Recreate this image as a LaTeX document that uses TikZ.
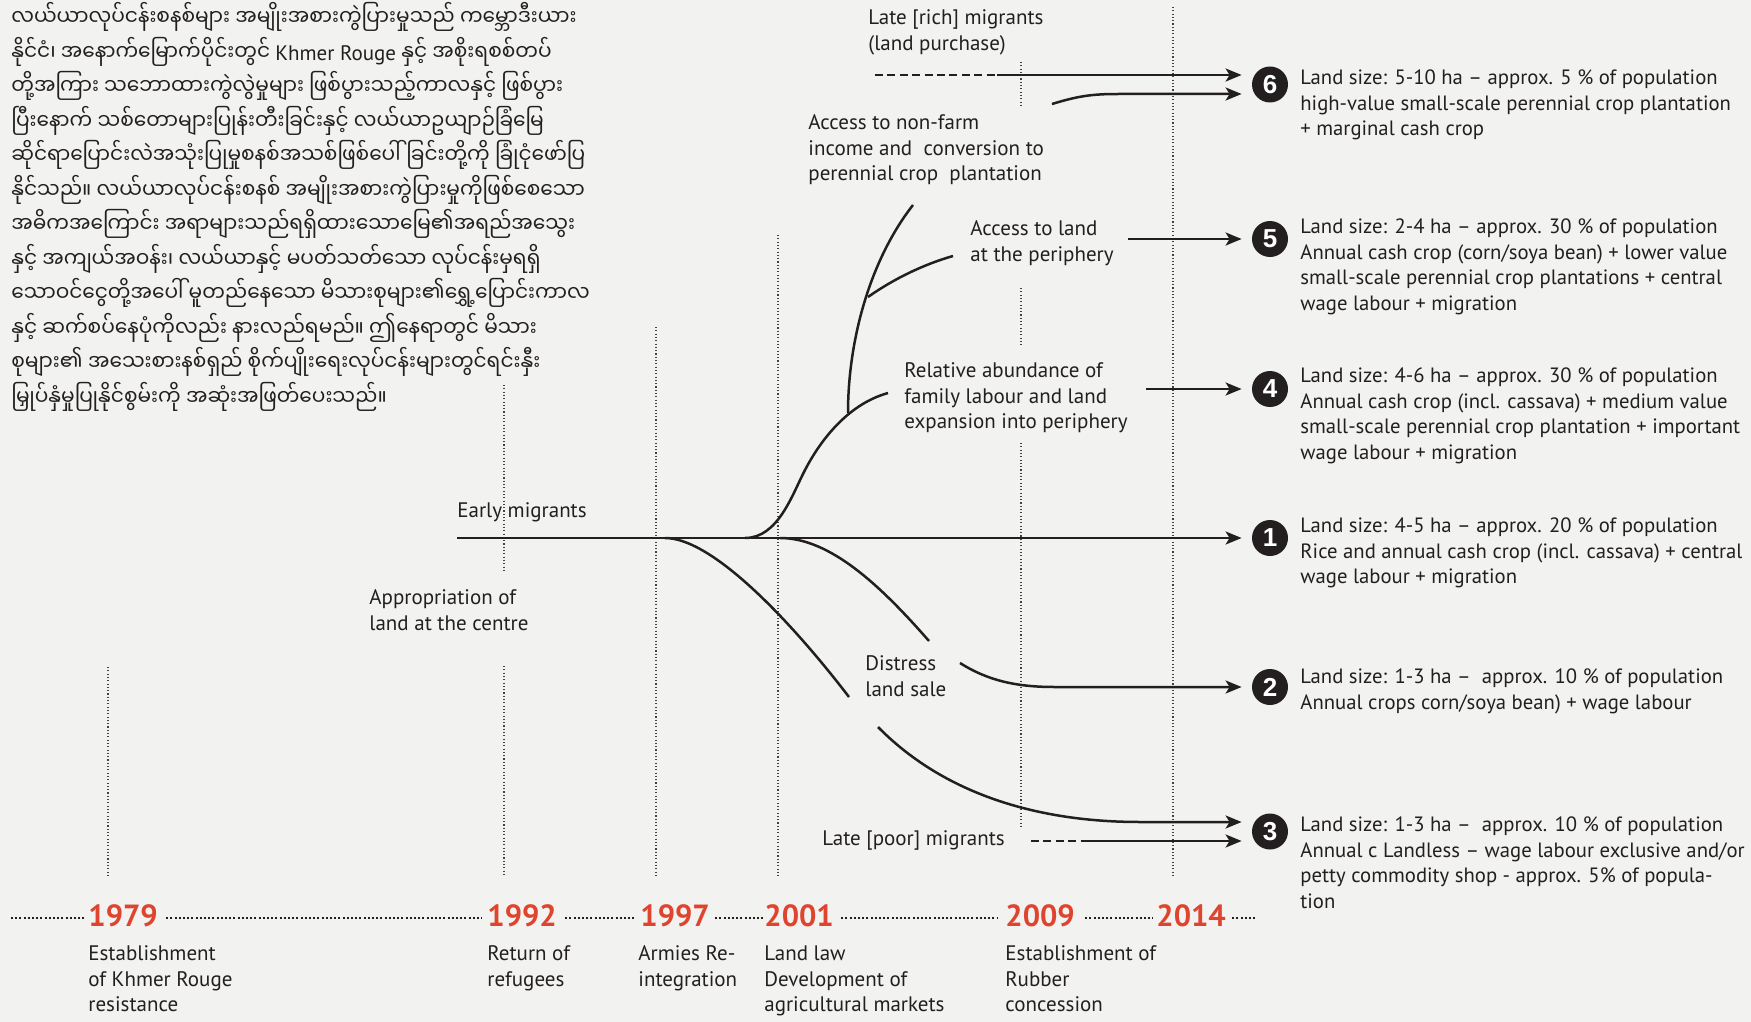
\documentclass[tikz,border=0pt]{standalone}
\usepackage{fontspec}
\setmainfont{PT Sans}
\newfontfamily\myafont[Script=Myanmar, FakeStretch=0.915]{Noto Sans Myanmar UI}
\newfontfamily\numfont{Liberation Sans}
\usetikzlibrary{arrows.meta,calc}
\definecolor{bg}{RGB}{242,242,240}
\definecolor{ink}{RGB}{35,31,32}
\definecolor{yr}{RGB}{222,68,46}
\begin{document}
\begin{tikzpicture}[x=0.5pt,y=-0.5pt,
  txt/.style={anchor=north west, inner sep=0pt, yshift=-1.7pt, align=left, text=ink, font=\fontsize{10.5}{12.75}\selectfont},
  outtxt/.style={txt, font=\fontsize{10.35}{12.75}\selectfont},
  yeartxt/.style={anchor=west, inner sep=0pt, text=yr, font=\bfseries\fontsize{15.3}{15}\selectfont},
  num/.style={circle, fill=ink, text=white, minimum size=18pt, inner sep=0pt, font=\numfont\bfseries\fontsize{13}{13}\selectfont},
  flow/.style={draw=ink, line width=1.25pt},
  arr/.style={flow, -{Stealth[length=8pt,width=6.5pt,inset=2pt]}},
  arrn/.style={arr, shorten >=5pt},
  dsh/.style={flow, dash pattern=on 4pt off 2.2pt},
  grid/.style={draw=ink!85, line width=0.55pt, dash pattern=on 0.55pt off 1.1pt},
  tl/.style={draw=ink, line width=1pt, dash pattern=on 1pt off 1.1pt}
]
\useasboundingbox (0,0) rectangle (1751,1022);
\fill[bg] (0,0) rectangle (1751,1022);

% vertical dotted year lines
\draw[grid] (108,667) -- (108,877);
\draw[grid] (504,385) -- (504,572);
\draw[grid] (504,666) -- (504,877);
\draw[grid] (656,327) -- (656,877);
\draw[grid] (778,235) -- (778,877);
\draw[grid] (1021,62) -- (1021,105);
\draw[grid] (1021,288) -- (1021,345);
\draw[grid] (1021,443) -- (1021,828);
\draw[grid] (1173,7) -- (1173,877);

% Myanmar paragraph
\node[anchor=north west, inner sep=0pt, align=left, text=ink,
      font=\myafont\fontsize{11}{17.25}\selectfont] (para) at (11,2) {%
လယ်ယာလုပ်ငန်းစနစ်များ အမျိုးအစားကွဲပြားမှုသည် ကမ္ဘောဒီးယား\\
နိုင်ငံ၊ အနောက်မြောက်ပိုင်းတွင် {\fontspec{PT Sans}\fontsize{10.5}{12}\selectfont Khmer Rouge} နှင့် အစိုးရစစ်တပ်\\
တို့အကြား သဘောထားကွဲလွဲမှုများ ဖြစ်ပွားသည့်ကာလနှင့် ဖြစ်ပွား\\
ပြီးနောက် သစ်တောများပြုန်းတီးခြင်းနှင့် လယ်ယာဥယျာဉ်ခြံမြေ\\
ဆိုင်ရာပြောင်းလဲအသုံးပြုမှုစနစ်အသစ်ဖြစ်ပေါ်ခြင်းတို့ကို ခြုံငုံဖော်ပြ\\
နိုင်သည်။ လယ်ယာလုပ်ငန်းစနစ် အမျိုးအစားကွဲပြားမှုကိုဖြစ်စေသော\\
အဓိကအကြောင်း အရာများသည်ရရှိထားသောမြေ၏အရည်အသွေး\\
နှင့် အကျယ်အဝန်း၊ လယ်ယာနှင့် မပတ်သတ်သော လုပ်ငန်းမှရရှိ\\
သောဝင်ငွေတို့အပေါ် မူတည်နေသော မိသားစုများ၏ရွှေ့ပြောင်းကာလ\\
နှင့် ဆက်စပ်နေပုံကိုလည်း နားလည်ရမည်။ ဤနေရာတွင် မိသား\\
စုများ၏ အသေးစားနစ်ရှည် စိုက်ပျိုးရေးလုပ်ငန်းများတွင်ရင်းနှီး\\
မြှုပ်နှံမှုပြုနိုင်စွမ်းကို အဆုံးအဖြတ်ပေးသည်။};

% circled outcome numbers
\node[num] (n6) at (1270,84.5) {6};
\node[num] (n5) at (1270,239) {5};
\node[num] (n4) at (1270,389) {4};
\node[num] (n1) at (1270,538) {1};
\node[num] (n2) at (1270,687) {2};
\node[num] (n3) at (1270,831.5) {3};

% outcome texts
\node[outtxt] (t6) at (1300,66) {Land size: 5-10 ha – approx. 5 \% of population\\high-value small-scale perennial crop plantation\\+ marginal cash crop};
\node[outtxt] (t5) at (1300,215) {Land size: 2-4 ha – approx. 30 \% of population\\Annual cash crop (corn/soya bean) + lower value\\small-scale perennial crop plantations + central\\wage labour + migration};
\node[outtxt] (t4) at (1300,364) {Land size: 4-6 ha – approx. 30 \% of population\\Annual cash crop (incl. cassava) + medium value\\small-scale perennial crop plantation + important\\wage labour + migration};
\node[outtxt] (t1) at (1300,514) {Land size: 4-5 ha – approx. 20 \% of population\\Rice and annual cash crop (incl. cassava) + central\\wage labour + migration};
\node[outtxt] (t2) at (1300,665) {Land size: 1-3 ha –\ \ approx. 10 \% of population\\Annual crops corn/soya bean) + wage labour};
\node[outtxt] (t3) at (1300,813) {Land size: 1-3 ha –\ \ approx. 10 \% of population\\Annual c Landless – wage labour exclusive and/or\\petty commodity shop - approx. 5\% of popula-\\tion};

% path labels
\node[txt] (rich) at (868,6) {Late [rich] migrants\\(land purchase)};
\node[txt] (nonfarm) at (808,111) {Access to non-farm\\income and\ \ conversion to\\perennial crop\ \ plantation};
\node[txt] (periph) at (970,217) {Access to land\\at the periphery};
\node[txt] (abund) at (904,359) {Relative abundance of\\family labour and land\\expansion into periphery};
\node[txt] (early) at (457,499) {Early migrants};
\node[txt] (approp) at (369,586) {Appropriation of\\land at the centre};
\node[txt] (distress) at (865,652) {Distress\\land sale};
\node[txt] (poor) at (822,827) {Late [poor] migrants};

% connector end points
\coordinate (m0) at (457,538);
\coordinate (r0) at (875,75);
\coordinate (r1) at (997,75);
\coordinate (p0) at (1031,841);
\coordinate (p1) at (1086,841);
\coordinate (a1) at (665,538);
\coordinate (a2) at (849,697);
\coordinate (b1) at (780,538);
\coordinate (b2) at (929,641);
\coordinate (c1) at (960,663);
\coordinate (d1) at (878,727);
\coordinate (e0) at (745,538);
\coordinate (e1) at (805,470);
\coordinate (e2) at (888,393);
\coordinate (j1) at (848,413);
\coordinate (f1) at (913,205);
\coordinate (g0) at (868,297);
\coordinate (g1) at (953,256);
\coordinate (h0) at (1052,104);
\coordinate (s5) at (1128,239);
\coordinate (s4) at (1146,389);

% main stem -> 1
\draw[arrn] (m0) -- (n1.west);
% late rich migrants -> 6
\draw[dsh] (r0) -- (r1);
\draw[arr, shorten >=5pt] (r1) -- ([yshift=4.75pt]n6.west);
% non-farm conversion -> 6
\draw[arr, shorten >=5pt] (h0) .. controls (1078,96) and (1092,94) .. (1118,94) -- ([yshift=-4.75pt]n6.west);
% periphery -> 5, abundance -> 4
\draw[arrn] (s5) -- (n5.west);
\draw[arrn] (s4) -- (n4.west);
% upward branches
\draw[flow] (e0) .. controls (778,538) and (792,495) .. (e1)
                 .. controls (818,445) and (845,405) .. (e2);
\draw[flow] (j1) .. controls (848,340) and (870,260) .. (f1);
\draw[flow] (g0) .. controls (895,278) and (925,264) .. (g1);
% downward branches
\draw[flow] (a1) .. controls (712,538) and (790,620) .. (a2);
\draw[flow] (b1) .. controls (830,538) and (880,585) .. (b2);
\draw[arr, shorten >=5pt] (c1) .. controls (990,682) and (1020,687) .. (1055,687) -- (n2.west);
\draw[arr, shorten >=5pt] (d1) .. controls (940,790) and (1030,822) .. (1140,822) -- ([yshift=4.75pt]n3.west);
% late poor migrants -> 3
\draw[dsh] (p0) -- (p1);
\draw[arr, shorten >=5pt] (p1) -- ([yshift=-4.75pt]n3.west);

% timeline
\node[yeartxt] (y79) at (88,916) {1979};
\node[yeartxt] (y92) at (487,916) {1992};
\node[yeartxt] (y97) at (640,916) {1997};
\node[yeartxt] (y01) at (764,916) {2001};
\node[yeartxt] (y09) at (1005,916) {2009};
\node[yeartxt] (y14) at (1156,916) {2014};
\coordinate (tl0) at (11,918);
\coordinate (tl1) at (1255,918);
\draw[tl] (tl0) -- ([xshift=-2pt,yshift=-1pt]y79.west);
\draw[tl] ([xshift=4pt,yshift=-1pt]y79.east) -- ([xshift=-2.5pt,yshift=-1pt]y92.west);
\draw[tl] ([xshift=4pt,yshift=-1pt]y92.east) -- ([xshift=-3pt,yshift=-1pt]y97.west);
\draw[tl] ([xshift=2.5pt,yshift=-1pt]y97.east) -- ([xshift=-0.5pt,yshift=-1pt]y01.west);
\draw[tl] ([xshift=3.5pt,yshift=-1pt]y01.east) -- ([xshift=-4pt,yshift=-1pt]y09.west);
\draw[tl] ([xshift=5pt,yshift=-1pt]y09.east) -- ([xshift=-1.5pt,yshift=-1pt]y14.west);
\draw[tl] ([xshift=3pt,yshift=-1pt]y14.east) -- (tl1);

\node[txt] (ev79) at (88,942) {Establishment\\of Khmer Rouge\\resistance};
\node[txt] (ev92) at (487,942) {Return of\\refugees};
\node[txt] (ev97) at (638,942) {Armies Re-\\integration};
\node[txt] (ev01) at (764,942) {Land law\\Development of\\agricultural markets};
\node[txt] (ev09) at (1005,942) {Establishment of\\Rubber\\concession};
\end{tikzpicture}
\end{document}
